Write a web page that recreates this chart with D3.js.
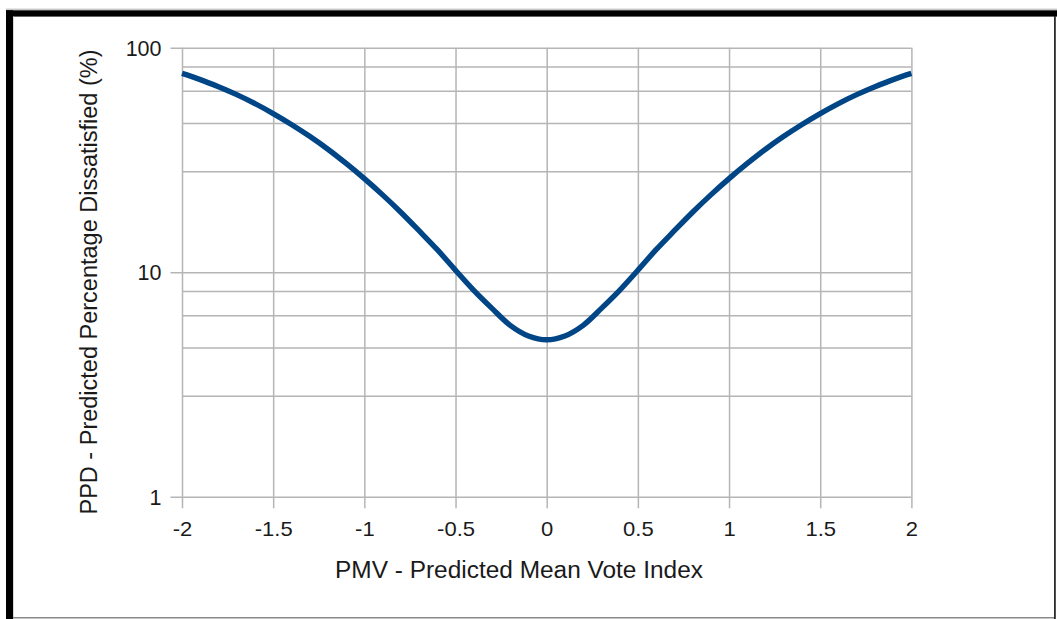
<!DOCTYPE html>
<html>
<head>
<meta charset="utf-8">
<script src="https://cdn.jsdelivr.net/npm/d3@7"></script>
<style>
  html, body { margin: 0; padding: 0; background: #fff; }
  svg { display: block; }
  text { font-family: "Liberation Sans", Arial, sans-serif; fill: #1a1a1a; }
</style>
</head>
<body>
<svg id="chart" width="1057" height="619"></svg>
<script>
// ---- data ----
const pmv = [-2.0,-1.9,-1.8,-1.7,-1.6,-1.5,-1.4,-1.3,-1.2,-1.1,-1.0,-0.9,-0.8,-0.7,-0.6,-0.5,-0.4,-0.3,-0.2,-0.1,
             0.0,0.1,0.2,0.3,0.4,0.5,0.6,0.7,0.8,0.9,1.0,1.1,1.2,1.3,1.4,1.5,1.6,1.7,1.8,1.9,2.0];
const ppd = [76.8,72.1,67.0,61.8,56.4,50.9,45.5,40.3,35.3,30.5,26.1,22.1,18.5,15.3,12.6,10.2,8.3,6.9,5.8,5.2,
             5.0,5.2,5.8,6.9,8.3,10.2,12.6,15.3,18.5,22.1,26.1,30.5,35.3,40.3,45.5,50.9,56.4,61.8,67.0,72.1,76.8];
const xTicks = [-2,-1.5,-1,-0.5,0,0.5,1,1.5,2];
const xTickLabels = ["-2","-1.5","-1","-0.5","0","0.5","1","1.5","2"];
const yMajor = [1,10,100];
const yMajorLabels = ["1","10","100"];
const yMinor = [2.8,4.6,6.4,8.2,28,46,64,82];
const xTitle = "PMV - Predicted Mean Vote Index";
const yTitle = "PPD - Predicted Percentage Dissatisfied (%)";

const svg = d3.select("#chart");

// ---- frame ----
svg.append("line").attr("x1",6).attr("x2",1057).attr("y1",9.2).attr("y2",9.2)
  .attr("stroke","#b0b0b0").attr("stroke-width",1);
svg.append("rect").attr("x",6).attr("y",10.3).attr("width",1051).attr("height",6.3).attr("fill","#000");
svg.append("rect").attr("x",6).attr("y",10.3).attr("width",7).attr("height",619).attr("fill","#000");
svg.append("line").attr("x1",13.5).attr("x2",13.5).attr("y1",16.6).attr("y2",619)
  .attr("stroke","#d8d8d8").attr("stroke-width",1);
svg.append("rect").attr("x",1054).attr("y",16).attr("width",1.8).attr("height",603).attr("fill","#2a2a2a");
svg.append("rect").attr("x",13).attr("y",617).attr("width",1041).attr("height",1.5).attr("fill","#8a8a8a");

// ---- scales ----
const x = d3.scaleLinear().domain([-2,2]).range([182,911.4]);
const y = d3.scaleLog().domain([1,100]).range([496.7,47.7]);

const gridColor = "#b5b5b5";

// horizontal minor grid
svg.append("g").selectAll("line").data(yMinor).join("line")
  .attr("x1",x(-2)).attr("x2",x(2))
  .attr("y1",d=>y(d)).attr("y2",d=>y(d))
  .attr("stroke",gridColor).attr("stroke-width",1.5);

// vertical grid + x ticks via axis
const xAxis = d3.axisBottom(x).tickValues(xTicks)
  .tickFormat((d,i)=>xTickLabels[i])
  .tickSizeOuter(0).tickPadding(0);
const gx = svg.append("g").attr("transform",`translate(0,${y(1)})`).call(xAxis);
gx.select(".domain").remove();
gx.selectAll(".tick line").attr("stroke",gridColor).attr("stroke-width",1.5)
  .attr("y1",11.5).attr("y2",-(y(1)-y(100)));
gx.selectAll(".tick text").attr("y",0).attr("dy",0)
  .attr("transform","translate(0,38.8) scale(1.1,1)")
  .style("font-size","20px").attr("fill","#1a1a1a")
  .style("font-family","'Liberation Sans', Arial, sans-serif");

// horizontal major grid + y labels via axis
const yAxis = d3.axisLeft(y).tickValues(yMajor)
  .tickFormat((d,i)=>yMajorLabels[i]).tickSizeOuter(0).tickPadding(0);
const gy = svg.append("g").attr("transform",`translate(${x(-2)},0)`).call(yAxis);
gy.select(".domain").remove();
gy.selectAll(".tick line").attr("stroke",gridColor).attr("stroke-width",1.5)
  .attr("x1",-11.5).attr("x2",x(2)-x(-2));
gy.selectAll(".tick text").attr("x",-20.5).attr("dy","0.36em")
  .style("font-size","21.5px").attr("fill","#1a1a1a")
  .style("font-family","'Liberation Sans', Arial, sans-serif");

// ---- curve ----
const pts = pmv.map((v,i)=>[v,ppd[i]]);
const line = d3.line().x(d=>x(d[0])).y(d=>y(d[1])).curve(d3.curveCatmullRom.alpha(0.5));
svg.append("path").datum(pts).attr("d",line)
  .attr("fill","none").attr("stroke","#004586").attr("stroke-width",5.4)
  .attr("stroke-linejoin","round").attr("stroke-linecap","butt");

// ---- titles ----
function fitText(sel, targetWidth){
  let fs = 17;
  sel.style("font-size", fs+"px");
  const w = sel.node().getComputedTextLength();
  fs = fs * targetWidth / w;
  sel.style("font-size", fs.toFixed(2)+"px");
}
const xt = svg.append("text").attr("x",519).attr("y",577.5).attr("text-anchor","middle").text(xTitle);
fitText(xt, 368);
const yt = svg.append("text").attr("transform","translate(97,282) rotate(-90)")
  .attr("text-anchor","middle").text(yTitle);
fitText(yt, 465);
</script>
</body>
</html>
